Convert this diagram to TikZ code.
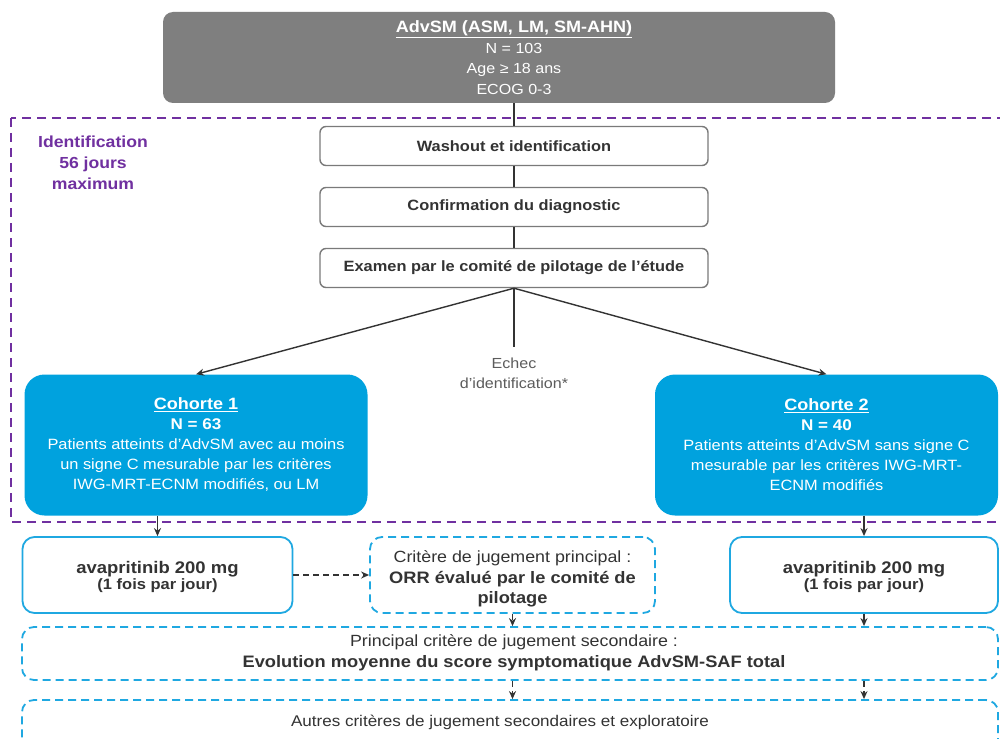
\documentclass[tikz,border=0pt]{standalone}
\usepackage{fontspec}
\setmainfont{Liberation Sans}[FakeStretch=1.1]
\usetikzlibrary{arrows.meta}
\definecolor{boxgray}{HTML}{7F7F7F}
\definecolor{cohblue}{HTML}{00A2DE}
\definecolor{lineblue}{HTML}{1FA8E1}
\definecolor{purp}{HTML}{7030A0}
\definecolor{txt}{HTML}{333333}
\definecolor{edgegray}{HTML}{7A7A7A}
\newcommand{\fsz}[2]{\fontsize{#1}{#2}\selectfont}
\tikzset{
  stepbox/.style={draw=edgegray, line width=1.4pt, rounded corners=6pt, fill=white,
    minimum width=388pt, minimum height=39pt, inner sep=0pt, text=txt, font=\bfseries\fsz{14.9}{19}},
  cohort/.style={fill=cohblue, rounded corners=20pt, text=white, align=center,
    minimum width=343pt, minimum height=141pt, inner sep=0pt, font=\fsz{14.9}{20}},
  treat/.style={draw=lineblue, line width=1.8pt, rounded corners=12pt, fill=white, text=txt, align=center,
    minimum width=270pt, minimum height=76pt, inner sep=0pt},
  endp/.style={draw=lineblue, line width=1.8pt, dash pattern=on 8pt off 5pt, rounded corners=12pt, inner sep=0pt},
  lbl/.style={text=txt, align=center, inner sep=0pt},
  conn/.style={draw=txt, line width=1.4pt},
  arr/.style={conn, -{Stealth[length=8pt,width=7pt]}},
  darr/.style={arr, dash pattern=on 6pt off 4pt},
}
\begin{document}
\begin{tikzpicture}[x=1pt,y=-1pt]
\clip (0,0) rectangle (1000,738);
\fill[white] (0,0) rectangle (1000,738);

% top box
\node[fill=boxgray, rounded corners=10pt, minimum width=672pt, minimum height=91pt, inner sep=0pt] (top) at (499,57.5) {};
\node[text=white, align=center, font=\fsz{14.6}{20.5}, inner sep=0pt] (toptext) at (514,57.5)
  {{\fsz{16.4}{20.5}\textbf{\underline{AdvSM (ASM, LM, SM-AHN)}}}\\N = 103\\Age ≥ 18 ans\\ECOG 0-3};

% identification region
\draw[purp, line width=1.8pt, dash pattern=on 9pt off 6pt] (11,118) rectangle (1012,522);
\node[text=purp, align=center, font=\bfseries\fsz{16}{21}] (ident) at (93,163)
  {Identification\\56 jours\\maximum};

\node[stepbox] (wash) at (514,146) {Washout et identification};
\node[stepbox] (conf) at (514,207) {Confirmation du diagnostic};
\node[stepbox] (exam) at (514,268) {Examen par le comité de pilotage de l’étude};

\draw[conn] (wash.north |- top.south) -- (wash.north);
\draw[conn] (wash) -- (conf);
\draw[conn] (conf) -- (exam);

\node[cohort] (c1) at (196,445)
  {{\fsz{16.4}{20}\textbf{\underline{Cohorte 1}}}\\{\fsz{15.5}{20}\textbf{N = 63}}\\Patients atteints d’AdvSM avec au moins\\un signe C mesurable par les critères\\IWG-MRT-ECNM modifiés, ou LM};
\node[cohort] (c2) at (826.5,445)
  {{\fsz{16.4}{20}\textbf{\underline{Cohorte 2}}}\\{\fsz{15.5}{20}\textbf{N = 40}}\\Patients atteints d’AdvSM sans signe C\\mesurable par les critères IWG-MRT-\\ECNM modifiés};

\coordinate (fail) at (514,347);
\node[text=txt!80, align=center, font=\fsz{14.6}{20}] (echec) at (514,373) {Echec\\d’identification*};
\draw[conn] (exam.south) -- (fail);
\draw[arr] (exam.south) -- (c1.north);
\draw[arr] (exam.south) -- (c2.north);

% treatments
\node[treat] (avl) at (157.5,575) {};
\node[lbl] (avlt) at (157.5,577)
  {{\bfseries\fsz{16.8}{19.5}avapritinib 200 mg}\\{\bfseries\fsz{15}{19.5}(1 fois par jour)}};
\node[treat, minimum width=268pt] (avr) at (864,575) {};
\node[lbl] (avrt) at (864,577)
  {{\bfseries\fsz{16.8}{19.5}avapritinib 200 mg}\\{\bfseries\fsz{15}{19.5}(1 fois par jour)}};

\node[endp, minimum width=285pt, minimum height=76pt] (crit) at (512.5,575) {};
\node[lbl, font=\fsz{16.2}{20.5}] (critt) at (512.5,579)
  {Critère de jugement principal :\\{\fsz{16.6}{20.5}\textbf{ORR évalué par le comité de}}\\{\fsz{16.6}{20.5}\textbf{pilotage}}};

\node[endp, minimum width=976pt, minimum height=53pt] (prin) at (510,653.5) {};
\node[lbl, font=\fsz{16.2}{21}] (print) at (514,653)
  {Principal critère de jugement secondaire :\\{\fsz{16.6}{21}\textbf{Evolution moyenne du score symptomatique AdvSM-SAF total}}};

\node[endp, minimum width=976pt, minimum height=62pt] (autr) at (510,731) {};
\node[lbl, font=\fsz{15.5}{20}] (autrt) at (500,722)
  {Autres critères de jugement secondaires et exploratoire};

\draw[arr] (avl.north |- c1.south) -- (avl.north);
\draw[arr] (avr.north |- c2.south) -- (avr.north);
\draw[darr] (avl.east) -- (crit.west);
\draw[darr] (crit.south) -- (crit.south |- prin.north);
\draw[arr] (avr.south) -- (avr.south |- prin.north);
\draw[darr] (crit.south |- prin.south) -- (crit.south |- autr.north);
\draw[darr] (avr.south |- prin.south) -- (avr.south |- autr.north);
\end{tikzpicture}
\end{document}
